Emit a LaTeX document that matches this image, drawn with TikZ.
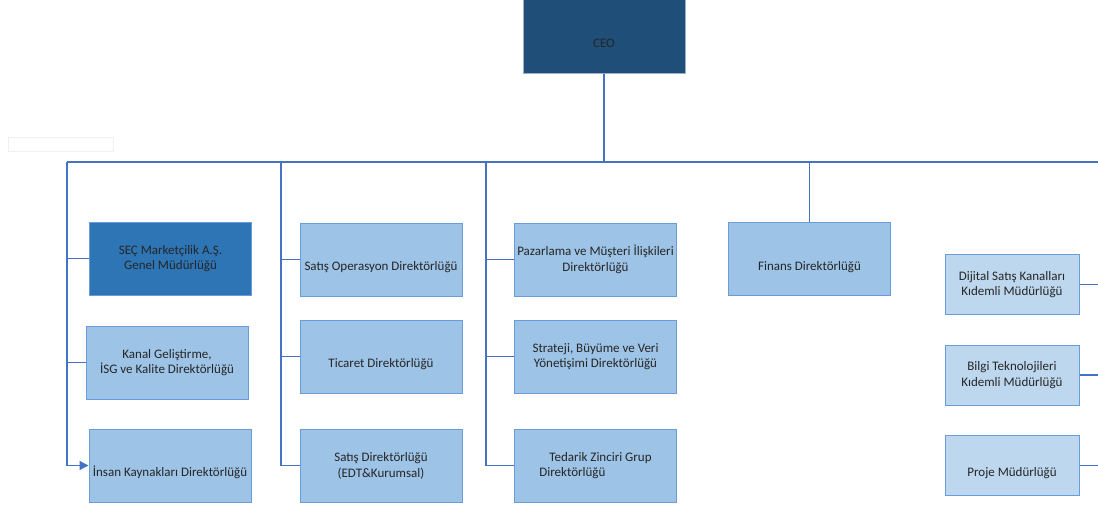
\documentclass[tikz,border=0pt]{standalone}
\usepackage{fontspec}
\setmainfont{Carlito}
\usepackage{tikz}
\usetikzlibrary{arrows.meta}
\definecolor{linkblue}{HTML}{4472C4}
\definecolor{ceoblue}{HTML}{1F4E79}
\definecolor{genblue}{HTML}{2E75B6}
\definecolor{dirblue}{HTML}{9DC3E6}
\definecolor{mgrblue}{HTML}{BDD7EE}
\definecolor{edgeblue}{HTML}{6A9BDB}

\begin{document}
\begin{tikzpicture}
  [x=1pt,y=-1pt,every node/.style={rectangle,draw=edgeblue,line width=1pt,fill=dirblue,text=black!85,
     font=\fontsize{13}{15.5}\selectfont,align=center,inner sep=0pt,minimum width=162pt,minimum height=73pt,
     execute at begin node={\rule{0pt}{25pt}}},
   link/.style={draw=linkblue,line width=1.4pt},
   mgr/.style={fill=mgrblue,minimum width=134pt,minimum height=60pt}]

  \useasboundingbox (0,0) rectangle (1098,506);
  \draw[gray!12,line width=0.8pt] (8,137) rectangle (113,151);

  \node[style={fill=ceoblue,draw=ceoblue!45!white},minimum height=76pt] (ceo) at (604,35) {CEO};

  \node[style={fill=genblue}] (sec) at (170.5,258.5) {SEÇ Marketçilik A.Ş.\\Genel Müdürlüğü};
  \node (kanal) at (167,362.5) {Kanal Geliştirme,\\İSG ve Kalite Direktörlüğü};
  \node (ik) at (170,465.5) {İnsan Kaynakları Direktörlüğü};
  \node (satop) at (381,259.5) {Satış Operasyon Direktörlüğü};
  \node (ticaret) at (381,356.5) {Ticaret Direktörlüğü};
  \node (satdir) at (381,465.5) {Satış Direktörlüğü\\(EDT\&Kurumsal)};
  \node (pazar) at (595.5,259.5) {Pazarlama ve Müşteri İlişkileri\\Direktörlüğü};
  \node (strateji) at (595.5,356.5) {Strateji, Büyüme ve Veri\\Yönetişimi Direktörlüğü};
  \node[align=left] (tedarik) at (595.5,465.5) {\hspace{10pt}Tedarik Zinciri Grup\hspace{14pt}\\Direktörlüğü};
  \node (finans) at (809.5,259) {Finans Direktörlüğü};
  \node[mgr] (dijital) at (1012,284.5) {Dijital Satış Kanalları\\Kıdemli Müdürlüğü};
  \node[mgr] (bilgi) at (1012,375) {Bilgi Teknolojileri\\Kıdemli Müdürlüğü};
  \node[mgr] (proje) at (1012,465.5) {Proje Müdürlüğü};

  \coordinate (c1) at (67,162);
  \coordinate (c2) at (281,162);
  \coordinate (c3) at (486,162);
  \coordinate (rgt) at (1098,162);

  \draw[link] (ceo.south) -- (ceo.south |- c1);
  \draw[link] (c1) -- (rgt);
  \foreach \from/\to in {c1/sec,c1/kanal,c2/satop,c2/ticaret,c2/satdir,c3/pazar,c3/strateji,c3/tedarik}
    \draw[link] (\from) |- (\to.west);
  \draw[link,-{Triangle[length=9pt,width=9pt]}] (c1) |- (ik.west);
  \draw[link] (finans.north) -- (finans.north |- c1);
  \foreach \from in {dijital,bilgi,proje}
    \draw[link] (\from.east) -- (\from.east -| rgt);
\end{tikzpicture}
\end{document}
